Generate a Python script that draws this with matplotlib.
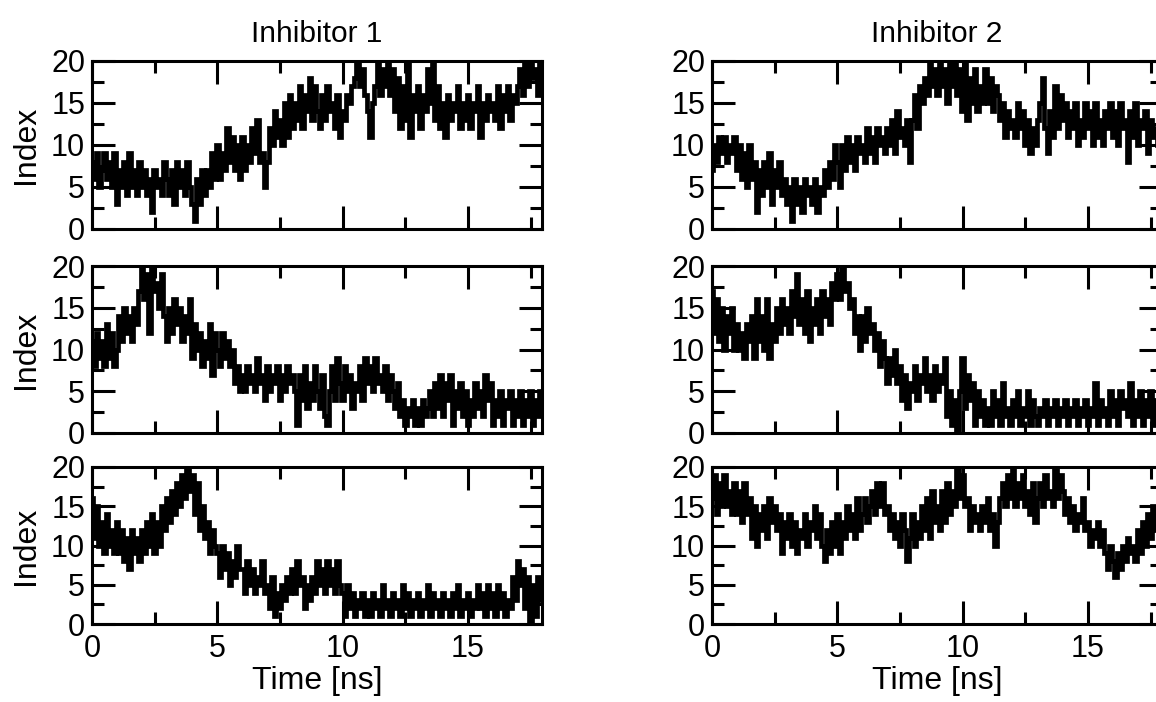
import numpy as np
import matplotlib
matplotlib.use("Agg")
import matplotlib.pyplot as plt
from matplotlib.ticker import MultipleLocator

plt.rcParams['font.family'] = ['Liberation Sans', 'DejaVu Sans']

dt = 0.1
titles = ["Inhibitor 1", "Inhibitor 2"]
x_ticks = [0, 5, 10, 15]
y_ticks = [0, 5, 10, 15, 20]
x_label = "Time [ns]"
y_label = "Index"

inh1_run1 = [
    8, 6, 9, 5, 7, 9, 6, 8, 5, 9,
    3, 7, 5, 8, 4, 9, 5, 7, 4, 8,
    5, 7, 4, 6, 2, 7, 5, 6, 4, 8,
    6, 4, 7, 3, 8, 5, 7, 4, 8, 5,
    3, 1, 6, 3, 7, 4, 7, 5, 9, 6,
    10, 6, 9, 7, 12, 8, 11, 7, 10, 6,
    11, 7, 10, 8, 12, 9, 13, 8, 9, 5,
    8, 12, 10, 14, 11, 13, 10, 15, 11, 16,
    12, 15, 13, 17, 12, 16, 14, 18, 13, 17,
    14, 12, 16, 13, 17, 14, 15, 12, 16, 11,
    14, 13, 16, 15, 17, 18, 20, 17, 19, 16,
    14, 11, 15, 17, 20, 16, 19, 17, 20, 16,
    19, 14, 18, 12, 17, 13, 20, 11, 16, 14,
    17, 12, 16, 14, 19, 15, 20, 13, 17, 12,
    15, 11, 16, 13, 15, 14, 17, 12, 15, 13,
    16, 12, 15, 14, 17, 11, 15, 13, 16, 14,
    15, 13, 17, 12, 16, 14, 17, 13, 16, 15,
    17, 19, 16, 20, 17, 20, 18, 19, 16, 20,
]
inh1_run2 = [
    11, 8, 12, 9, 11, 8, 13, 9, 12, 8,
    10, 14, 11, 15, 12, 14, 11, 15, 13, 17,
    20, 16, 19, 12, 20, 17, 18, 15, 19, 14,
    11, 15, 12, 16, 13, 15, 11, 14, 12, 16,
    9, 13, 10, 12, 8, 11, 9, 13, 7, 12,
    10, 8, 12, 9, 11, 8, 10, 6, 8, 5,
    7, 5, 8, 6, 7, 5, 9, 6, 7, 4,
    8, 5, 7, 6, 8, 4, 7, 5, 8, 6,
    7, 5, 1, 7, 4, 8, 3, 6, 4, 8,
    5, 3, 7, 2, 1, 5, 8, 4, 9, 6,
    4, 8, 5, 7, 3, 6, 5, 8, 4, 9,
    6, 8, 5, 9, 6, 7, 5, 8, 4, 7,
    5, 3, 6, 2, 4, 1, 3, 2, 4, 1,
    3, 1, 4, 2, 3, 5, 2, 6, 3, 7,
    2, 6, 4, 7, 1, 5, 3, 6, 2, 5,
    1, 4, 2, 6, 3, 5, 2, 7, 4, 6,
    1, 4, 2, 5, 1, 4, 3, 5, 1, 4,
    2, 5, 1, 4, 2, 5, 1, 4, 2, 5,
]
inh1_run3 = [
    16, 11, 15, 10, 13, 9, 14, 10, 12, 9,
    13, 9, 12, 8, 11, 7, 12, 9, 11, 8,
    12, 9, 13, 10, 14, 9, 13, 10, 15, 12,
    16, 13, 17, 14, 18, 15, 19, 16, 20, 17,
    19, 14, 18, 12, 15, 11, 13, 9, 12, 10,
    9, 6, 10, 7, 9, 5, 8, 6, 10, 7,
    7, 4, 8, 5, 7, 4, 6, 5, 8, 4,
    5, 2, 6, 1, 4, 2, 5, 3, 6, 4,
    7, 4, 8, 5, 6, 2, 5, 3, 6, 4,
    8, 5, 7, 4, 8, 5, 7, 4, 8, 5,
    4, 1, 5, 2, 4, 1, 3, 2, 4, 1,
    3, 1, 4, 2, 3, 1, 5, 2, 3, 1,
    4, 2, 3, 1, 5, 2, 4, 1, 3, 2,
    4, 1, 3, 2, 5, 1, 4, 2, 3, 1,
    4, 2, 3, 1, 4, 2, 5, 1, 3, 2,
    4, 1, 3, 2, 5, 2, 4, 1, 5, 2,
    4, 1, 5, 2, 4, 1, 3, 2, 6, 3,
    8, 5, 7, 2, 6, 0, 5, 1, 6, 3,
]
inh2_run1 = [
    7, 10, 8, 11, 9, 11, 8, 10, 9, 11,
    7, 10, 6, 9, 5, 10, 6, 8, 2, 7,
    4, 8, 5, 9, 3, 7, 5, 8, 4, 6,
    3, 5, 1, 6, 3, 5, 2, 6, 4, 5,
    3, 6, 2, 5, 4, 7, 5, 8, 6, 10,
    8, 5, 10, 7, 11, 8, 10, 7, 11, 9,
    10, 8, 12, 9, 11, 8, 12, 10, 11, 9,
    12, 10, 13, 9, 14, 11, 12, 10, 13, 8,
    13, 16, 12, 17, 15, 18, 16, 20, 17, 19,
    16, 20, 17, 19, 15, 20, 17, 20, 16, 19,
    14, 20, 13, 18, 15, 19, 14, 17, 15, 19,
    15, 18, 14, 17, 16, 13, 15, 11, 14, 12,
    13, 11, 15, 12, 14, 10, 13, 9, 12, 10,
    13, 15, 18, 12, 9, 14, 11, 17, 12, 16,
    13, 15, 11, 14, 12, 15, 10, 13, 11, 15,
    12, 14, 10, 15, 11, 13, 10, 14, 12, 15,
    11, 14, 10, 15, 12, 13, 8, 14, 11, 15,
    10, 13, 12, 14, 9, 13, 11, 12, 10, 13,
]
inh2_run2 = [
    17, 12, 16, 11, 15, 10, 14, 12, 15, 10,
    13, 10, 12, 9, 13, 11, 14, 9, 16, 11,
    14, 10, 16, 9, 13, 11, 15, 12, 16, 13,
    15, 12, 17, 14, 19, 13, 16, 12, 17, 11,
    15, 13, 16, 12, 17, 14, 16, 13, 18, 16,
    19, 16, 20, 17, 18, 15, 16, 12, 14, 10,
    14, 11, 15, 12, 13, 10, 12, 8, 11, 9,
    6, 9, 7, 10, 6, 8, 4, 7, 3, 6,
    5, 8, 4, 7, 6, 9, 5, 7, 4, 8,
    5, 7, 6, 9, 2, 5, 1, 4, 0, 5,
    9, 3, 7, 4, 6, 1, 5, 2, 4, 1,
    3, 1, 5, 2, 4, 1, 6, 2, 3, 1,
    4, 2, 5, 1, 3, 2, 5, 1, 4, 2,
    1, 3, 2, 4, 1, 3, 2, 4, 1, 3,
    2, 4, 1, 3, 2, 4, 1, 3, 2, 4,
    1, 3, 2, 6, 1, 4, 2, 3, 1, 5,
    2, 4, 1, 5, 3, 4, 2, 6, 1, 4,
    2, 5, 1, 4, 2, 5, 1, 4, 2, 5,
]
inh2_run3 = [
    16, 19, 14, 18, 15, 19, 15, 17, 14, 18,
    14, 17, 13, 18, 14, 16, 11, 15, 10, 14,
    12, 15, 11, 16, 13, 15, 12, 14, 9, 13,
    11, 14, 10, 13, 9, 12, 11, 14, 10, 13,
    12, 15, 11, 14, 10, 8, 12, 9, 13, 10,
    14, 9, 13, 11, 15, 12, 14, 11, 16, 12,
    14, 16, 13, 15, 17, 14, 18, 15, 18, 14,
    15, 12, 14, 11, 13, 10, 14, 12, 8, 11,
    14, 10, 13, 11, 15, 12, 16, 11, 17, 13,
    15, 12, 17, 13, 18, 14, 17, 15, 20, 16,
    19, 15, 16, 12, 15, 13, 14, 12, 15, 13,
    16, 12, 14, 10, 13, 16, 18, 15, 19, 16,
    20, 15, 18, 16, 19, 15, 17, 14, 18, 13,
    16, 18, 15, 19, 16, 17, 15, 20, 16, 19,
    17, 14, 16, 13, 15, 12, 14, 13, 16, 12,
    13, 10, 12, 11, 13, 10, 12, 9, 7, 10,
    8, 6, 9, 7, 10, 8, 11, 9, 10, 8,
    12, 9, 13, 10, 14, 11, 15, 12, 13, 14,
]

series = [[inh1_run1, inh2_run1],
          [inh1_run2, inh2_run2],
          [inh1_run3, inh2_run3]]

# ---- layout ----
W, H = 1156, 702
fig = plt.figure(figsize=(W / 100, H / 100), dpi=100)

col_left_px = [92, 712]
col_w_px = 450
rows_px = [(61, 229), (266, 433), (467, 624)]

FS = 22
for r, (top, bot) in enumerate(rows_px):
    for c in range(2):
        ax = fig.add_axes([col_left_px[c] / W, (H - bot) / H,
                           col_w_px / W, (bot - top) / H])
        y = np.asarray(series[r][c], dtype=float)
        t = np.arange(len(y)) * dt
        ax.plot(t, y, color='black', lw=3.4, drawstyle='steps-mid',
                solid_joinstyle='miter')
        ax.set_xlim(0, 17.95)
        ax.set_ylim(0, 20)
        ax.set_xticks(x_ticks)
        ax.set_yticks(y_ticks)
        ax.xaxis.set_minor_locator(MultipleLocator(2.5))
        ax.yaxis.set_minor_locator(MultipleLocator(2.5))
        ax.tick_params(which='both', direction='in', top=True, right=True,
                       width=2.2, labelsize=FS, color='black')
        ax.tick_params(which='major', length=16.5, pad=5)
        ax.tick_params(which='minor', length=8.6)
        ax.tick_params(axis='x', which='major', pad=7)
        for s in ax.spines.values():
            s.set_linewidth(2.2)
        ax.set_ylabel(y_label, fontsize=23, labelpad=7)
        if r == 2:
            ax.set_xlabel(x_label, fontsize=23, labelpad=2)
        else:
            ax.tick_params(axis='x', labelbottom=False)
        if r == 0:
            ax.set_title(titles[c], fontsize=21.5, pad=14)
        if c == 1:
            ax.set_ylabel("")

fig.savefig("out.png", dpi=100)
